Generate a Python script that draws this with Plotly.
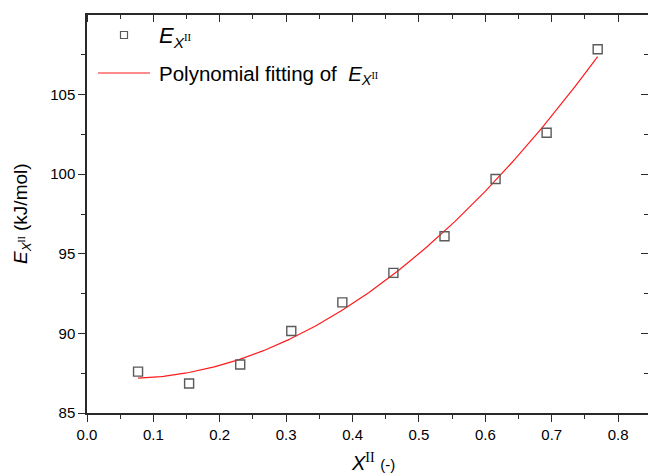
import numpy as np
import plotly.graph_objects as go

# Measured activation energy vs. mole fraction X^II
x_frac = [0.0769, 0.1538, 0.2308, 0.3077, 0.3846, 0.4615, 0.5385, 0.6154, 0.6923, 0.7692]
e_vals = [87.6, 86.85, 88.05, 90.15, 91.95, 93.8, 96.1, 99.7, 102.6, 107.85]

# Axis settings
x_range = [0.0, 0.845]
y_range = [85.0, 110.0]
x_ticks = [0.0, 0.1, 0.2, 0.3, 0.4, 0.5, 0.6, 0.7, 0.8]
y_ticks = [85, 90, 95, 100, 105]
x_minor = [0.05, 0.15, 0.25, 0.35, 0.45, 0.55, 0.65, 0.75]
y_minor = [87.5, 92.5, 97.5, 102.5, 107.5]

# Second-order polynomial fit of the measured points
coef = np.polyfit(x_frac, e_vals, 2)
x_fit = np.linspace(x_frac[0], x_frac[-1], 200)
y_fit = np.polyval(coef, x_fit)

FONT = "Liberation Sans, Arial, sans-serif"
AX = "#2a2a2a"
MARK = "#5a5a5a"
RED = "#ff1a1a"

fig = go.Figure()
fig.add_trace(go.Scatter(
    x=x_fit, y=y_fit, mode="lines",
    line=dict(color=RED, width=1.2), showlegend=False, hoverinfo="skip"))
fig.add_trace(go.Scatter(
    x=x_frac, y=e_vals, mode="markers",
    marker=dict(symbol="square-open", size=9, color=MARK, line=dict(width=1.4, color=MARK)),
    showlegend=False))
# helper traces so the inward tick-only axes (top / right) are drawn
fig.add_trace(go.Scatter(x=[None], y=[None], xaxis="x2", yaxis="y2", showlegend=False))
fig.add_trace(go.Scatter(x=[None], y=[None], xaxis="x3", yaxis="y3", showlegend=False))

common = dict(showgrid=False, zeroline=False)


def tick_only_axis(rng, overlay, side, anchor, vals, length):
    # axis that carries only inward ticks (no labels, no line)
    return dict(range=rng, overlaying=overlay, side=side, anchor=anchor,
                tickmode="array", tickvals=[], ticks="", showticklabels=False, showline=False,
                minor=dict(tickmode="array", tickvals=vals, ticks="inside", ticklen=length,
                           tickwidth=1.3, tickcolor=AX),
                **common)


fig.update_layout(
    width=648, height=473,
    margin=dict(l=87, r=0, t=15, b=60),
    paper_bgcolor="white", plot_bgcolor="white",
    font=dict(family=FONT, size=15, color="black"),
    xaxis=dict(range=x_range, tickvals=x_ticks, ticktext=[f"{v:.1f}" for v in x_ticks],
               ticks="outside", ticklen=7, tickwidth=1.3, tickcolor=AX,
               showline=True, linecolor=AX, linewidth=1.5, mirror=True,
               minor=dict(tickmode="array", tickvals=x_minor, ticks="outside", ticklen=4,
                          tickwidth=1.2, tickcolor=AX),
               tickfont=dict(size=15), **common),
    yaxis=dict(range=y_range, tickvals=y_ticks, ticktext=[str(v) for v in y_ticks],
               ticks="outside", ticklen=7, tickwidth=1.3, tickcolor=AX,
               showline=True, linecolor=AX, linewidth=1.5, mirror=False,
               minor=dict(tickmode="array", tickvals=y_minor, ticks="outside", ticklen=4,
                          tickwidth=1.2, tickcolor=AX),
               tickfont=dict(size=15), **common),
    xaxis2=tick_only_axis(x_range, "x", "top", "y2", x_ticks, 7),
    yaxis2=tick_only_axis(y_range, "y", "right", "x2", y_ticks, 7),
    xaxis3=tick_only_axis(x_range, "x", "top", "y3", x_minor, 4),
    yaxis3=tick_only_axis(y_range, "y", "right", "x3", y_minor, 4),
)


# paper-coordinate helpers (plot area: x 87..648 px, y 15..413 px)
def px(xp):
    return (xp - 87) / 561.0


def py(yp):
    return (413 - yp) / 398.0


SUB_E = "<i>E</i><sub><i>X</i><sup><span style='font-family:Liberation Serif'>II</span></sup></sub>"

# legend: open square sample and red line sample
fig.add_shape(type="rect", xref="paper", yref="paper",
              x0=px(120.5), x1=px(127.5), y0=py(38.5), y1=py(31.5),
              line=dict(color=MARK, width=1.2), fillcolor="rgba(0,0,0,0)")
fig.add_shape(type="line", xref="paper", yref="paper",
              x0=px(98), x1=px(150), y0=py(73), y1=py(73),
              line=dict(color=RED, width=1.2))
fig.add_annotation(xref="paper", yref="paper", x=px(157), y=py(37), xanchor="left", yanchor="middle",
                   showarrow=False, font=dict(size=22, family=FONT), text=SUB_E)
fig.add_annotation(xref="paper", yref="paper", x=px(157), y=py(75), xanchor="left", yanchor="middle",
                   showarrow=False, font=dict(size=20.5, family=FONT),
                   text="Polynomial fitting of  " + SUB_E)

# axis titles
fig.add_annotation(xref="paper", yref="paper", x=px(373), y=py(462), xanchor="center", yanchor="middle",
                   showarrow=False, font=dict(size=20, family=FONT),
                   text="<i>X</i><sup><span style='font-family:Liberation Serif'>II</span></sup> "
                        "<span style='font-size:15px'>(-)</span>")
fig.add_annotation(xref="paper", yref="paper", x=px(22), y=py(214), xanchor="center", yanchor="middle",
                   showarrow=False, textangle=-90, font=dict(size=19, family=FONT),
                   text=SUB_E + " (kJ/mol)")

fig.write_html("out.html")
